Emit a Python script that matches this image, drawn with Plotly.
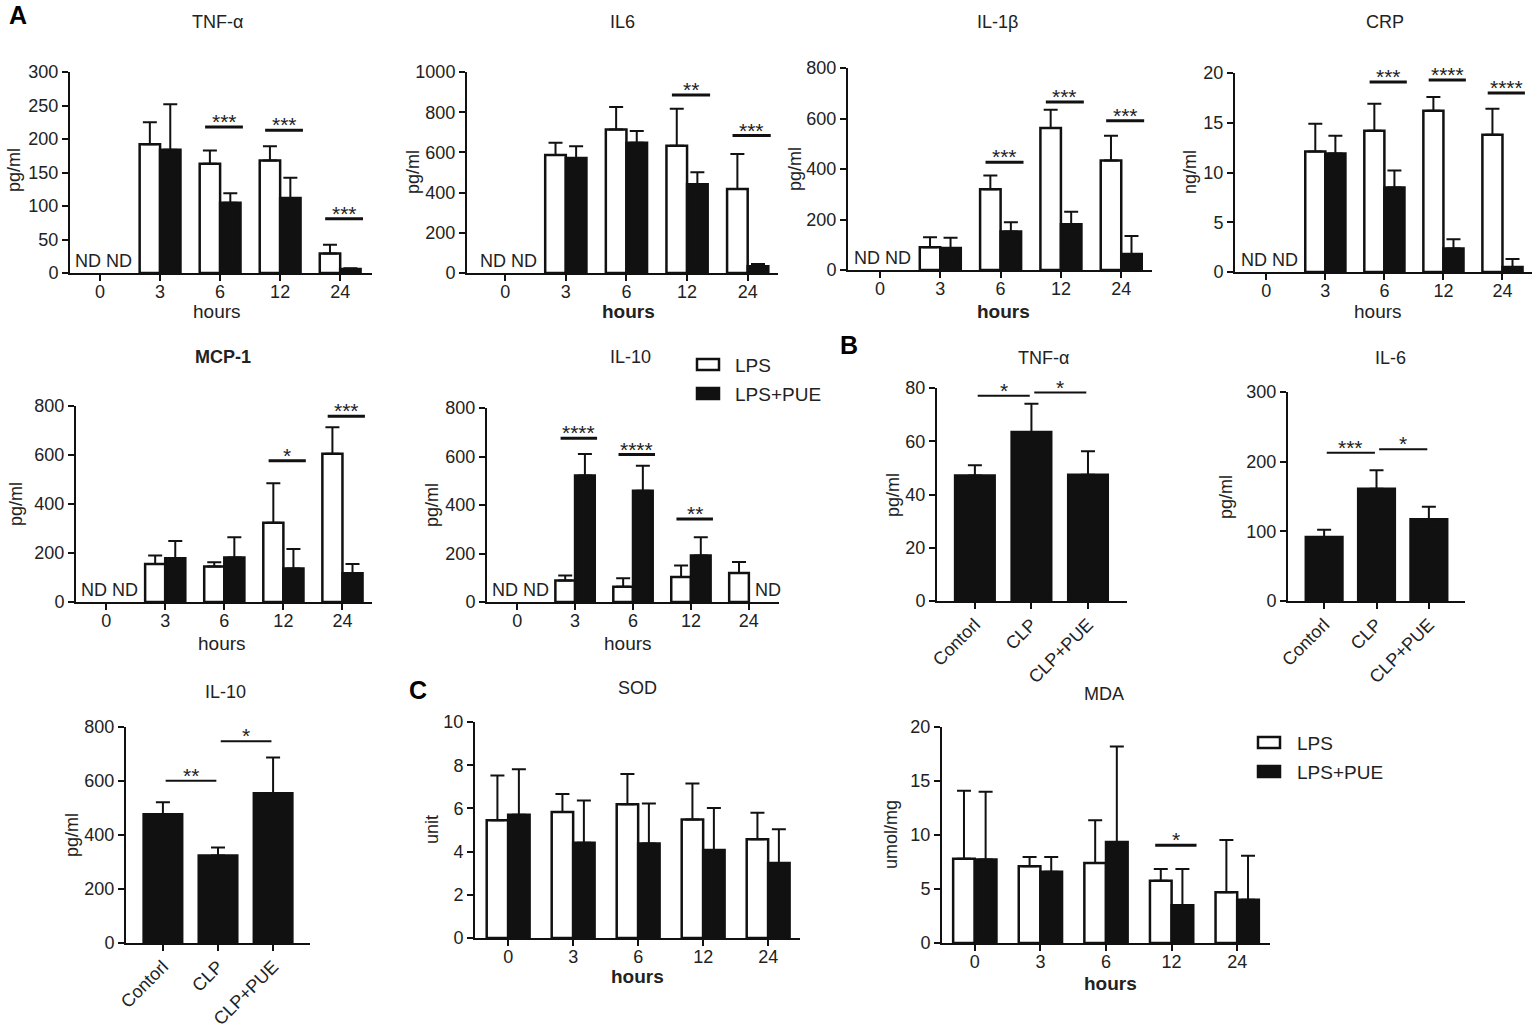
import plotly.graph_objects as go

W, H = 1535, 1030
FONT = 'Liberation Sans, Arial, sans-serif'
INK = '#111111'
TXT = '#222222'

hour_labels = ['0', '3', '6', '12', '24']
group_labels = ['Contorl', 'CLP', 'CLP+PUE']

# A: serum levels after LPS, mean and SD (None = not detected)
tnf_lps = [None, 192, 163, 168, 29]
tnf_lps_sd = [None, 33, 20, 21, 13]
tnf_pue = [None, 184, 105, 112, 6]
tnf_pue_sd = [None, 68, 14, 30, 1]

il6_lps = [None, 587, 714, 633, 418]
il6_lps_sd = [None, 61, 112, 184, 174]
il6_pue = [None, 572, 648, 441, 33]
il6_pue_sd = [None, 59, 59, 60, 12]

il1b_lps = [None, 90, 320, 562, 434]
il1b_lps_sd = [None, 40, 54, 73, 98]
il1b_pue = [None, 87, 152, 181, 63]
il1b_pue_sd = [None, 41, 37, 50, 72]

crp_lps = [None, 12.1, 14.2, 16.2, 13.8]
crp_lps_sd = [None, 2.8, 2.7, 1.4, 2.6]
crp_pue = [None, 11.9, 8.5, 2.35, 0.5]
crp_pue_sd = [None, 1.8, 1.7, 0.95, 0.8]

mcp_lps = [None, 155, 145, 323, 605]
mcp_lps_sd = [None, 35, 17, 162, 108]
mcp_pue = [None, 179, 182, 137, 117]
mcp_pue_sd = [None, 70, 82, 79, 38]

il10_lps = [None, 89, 63, 103, 120]
il10_lps_sd = [None, 20, 35, 48, 45]
il10_pue = [None, 522, 459, 192, None]
il10_pue_sd = [None, 88, 103, 75, None]

# B: CLP model
b_tnf = [47.1, 63.5, 47.4]
b_tnf_sd = [3.9, 10.6, 8.8]
b_il6 = [91.9, 161.2, 117.2]
b_il6_sd = [10.5, 26.4, 18.2]
b_il10 = [477, 324, 555]
b_il10_sd = [44, 30, 132]

# C: oxidative stress
sod_lps = [5.45, 5.83, 6.19, 5.49, 4.57]
sod_lps_sd = [2.07, 0.84, 1.40, 1.66, 1.23]
sod_pue = [5.71, 4.41, 4.38, 4.07, 3.47]
sod_pue_sd = [2.10, 1.96, 1.85, 1.95, 1.56]

mda_lps = [7.81, 7.10, 7.41, 5.77, 4.69]
mda_lps_sd = [6.29, 0.86, 3.95, 1.08, 4.85]
mda_pue = [7.72, 6.60, 9.35, 3.49, 4.01]
mda_pue_sd = [6.28, 1.36, 8.85, 3.36, 4.08]

# significance: (hour index, bar height, stars) or (group i, group j, height, stars)
tnf_sig = [(2, 218, '***'), (3, 213, '***'), (4, 81, '***')]
il6_sig = [(3, 886, '**'), (4, 684, '***')]
il1b_sig = [(2, 427, '***'), (3, 665, '***'), (4, 591, '***')]
crp_sig = [(2, 19.1, '***'), (3, 19.3, '****'), (4, 18.0, '****')]
mcp_sig = [(3, 577, '*'), (4, 758, '***')]
il10_sig = [(1, 675, '****'), (2, 608, '****'), (3, 342, '**')]
mda_sig = [(3, 9.04, '*')]
b_tnf_sig = [(0, 1, 77.1, '*'), (1, 2, 78.3, '*')]
b_il6_sig = [(0, 1, 212.9, '***'), (1, 2, 217.7, '*')]
b_il10_sig = [(0, 1, 601, '**'), (1, 2, 747, '*')]

fig = go.Figure()
annotations = []
shapes = []


def text(x, y, s, size=18, bold=False, angle=0, xanchor='center', color=TXT):
    if bold:
        s = '<b>' + s + '</b>'
    annotations.append(dict(x=x / W, y=1 - y / H, xref='paper', yref='paper', text=s,
                            showarrow=False, textangle=angle, xanchor=xanchor,
                            yanchor='middle', font=dict(family=FONT, size=size, color=color)))


def axes(n, xpx, ypx, xrange, ymax, dtick, labels, angle=0, standoff=-5):
    k = '' if n == 1 else str(n)
    fig.layout['xaxis' + k] = dict(
        domain=[xpx[0] / W, xpx[1] / W], range=xrange, anchor='y' + k, automargin=False,
        tickvals=list(range(len(labels))), ticktext=labels, tickangle=angle,
        ticklabelstandoff=standoff,
        showline=True, linecolor=INK, linewidth=2, ticks='outside', ticklen=6,
        tickwidth=2, tickcolor=INK, showgrid=False, zeroline=False,
        tickfont=dict(family=FONT, size=18, color=TXT))
    fig.layout['yaxis' + k] = dict(
        domain=[1 - ypx[1] / H, 1 - ypx[0] / H], range=[0, ymax], dtick=dtick,
        anchor='x' + k, automargin=False, showline=True, linecolor=INK, linewidth=2,
        ticks='outside', ticklen=6, tickwidth=2, tickcolor=INK, showgrid=False,
        zeroline=False, tickfont=dict(family=FONT, size=18, color=TXT))
    return 'x' + k, 'y' + k


def bar(xa, ya, vals, sd, fill, width, offset):
    n = len(vals)
    fig.add_trace(go.Bar(
        x=list(range(n)), y=vals, xaxis=xa, yaxis=ya, width=width, offset=offset,
        marker=dict(color=fill, line=dict(color=INK, width=2.5)), showlegend=False,
        error_y=dict(type='data', symmetric=False, array=sd, arrayminus=[0] * n,
                     color=INK, thickness=2, width=7)))


def star(xa, ya, x0, x1, y, s, lw=3):
    shapes.append(dict(type='line', xref=xa, yref=ya, x0=x0, x1=x1, y0=y, y1=y,
                       line=dict(color=INK, width=lw)))
    annotations.append(dict(x=(x0 + x1) / 2, y=y, xref=xa, yref=ya, text=s,
                            showarrow=False, yanchor='bottom', yshift=-8,
                            font=dict(family=FONT, size=21, color=TXT)))


def time_panel(n, xpx, ypx, xrange, ymax, dtick, lps, lps_sd, pue, pue_sd, sig,
               nd=True, bw=0.34):
    xa, ya = axes(n, xpx, ypx, xrange, ymax, dtick, hour_labels)
    bar(xa, ya, lps, lps_sd, 'white', bw, -bw)
    bar(xa, ya, pue, pue_sd, INK, bw, 0)
    for i, y, s in sig:
        star(xa, ya, i - 0.25, i + 0.38, y, s)
    if nd:
        annotations.append(dict(x=0.05, y=0, xref=xa, yref=ya, text='ND ND', showarrow=False,
                                yanchor='bottom', yshift=0,
                                font=dict(family=FONT, size=18, color=TXT)))
    return xa, ya


def group_panel(n, xpx, ypx, xrange, ymax, dtick, vals, sd, sig):
    xa, ya = axes(n, xpx, ypx, xrange, ymax, dtick, group_labels, angle=-45, standoff=-2)
    bar(xa, ya, vals, sd, INK, 0.7, -0.35)
    for i, j, y, s in sig:
        star(xa, ya, i + 0.05, j - 0.03, y, s, lw=2)
    return xa, ya


# row 1
time_panel(1, (70, 372), (72, 273), [-0.5, 4.53], 300, 50,
           tnf_lps, tnf_lps_sd, tnf_pue, tnf_pue_sd, tnf_sig)
time_panel(2, (467, 778), (72, 273), [-0.63, 4.5], 1000, 200,
           il6_lps, il6_lps_sd, il6_pue, il6_pue_sd, il6_sig)
time_panel(3, (848, 1152), (68, 270), [-0.53, 4.51], 800, 200,
           il1b_lps, il1b_lps_sd, il1b_pue, il1b_pue_sd, il1b_sig)
time_panel(4, (1235, 1532), (73, 272), [-0.53, 4.5], 20, 5,
           crp_lps, crp_lps_sd, crp_pue, crp_pue_sd, crp_sig)
# row 2
time_panel(5, (76, 372), (406, 602), [-0.51, 4.5], 800, 200,
           mcp_lps, mcp_lps_sd, mcp_pue, mcp_pue_sd, mcp_sig)
xa6, ya6 = time_panel(6, (487, 779), (408, 602), [-0.52, 4.52], 800, 200,
                      il10_lps, il10_lps_sd, il10_pue, il10_pue_sd, il10_sig)
annotations.append(dict(x=4.33, y=0, xref=xa6, yref=ya6, text='ND', showarrow=False,
                        yanchor='bottom', yshift=0, font=dict(family=FONT, size=18, color=TXT)))
group_panel(7, (937, 1127), (388, 601), [-0.67, 2.69], 80, 20, b_tnf, b_tnf_sd, b_tnf_sig)
group_panel(8, (1288, 1465), (392, 601), [-0.69, 2.69], 300, 100, b_il6, b_il6_sd, b_il6_sig)
# row 3
group_panel(9, (126, 310), (727, 943), [-0.67, 2.67], 800, 200, b_il10, b_il10_sd, b_il10_sig)
time_panel(10, (475, 800), (722, 938), [-0.51, 4.49], 10, 2,
           sod_lps, sod_lps_sd, sod_pue, sod_pue_sd, [], nd=False, bw=0.33)
time_panel(11, (942, 1270), (727, 943), [-0.5, 4.5], 20, 5,
           mda_lps, mda_lps_sd, mda_pue, mda_pue_sd, mda_sig, nd=False, bw=0.33)

# titles
for x, y, s, b in [(217, 22, 'TNF-α', False), (622, 22, 'IL6', False), (997, 22, 'IL-1β', False),
                   (1385, 22, 'CRP', False), (223, 357, 'MCP-1', True), (630, 357, 'IL-10', False),
                   (1043, 358, 'TNF-α', False), (1390, 358, 'IL-6', False),
                   (225, 692, 'IL-10', False), (637, 688, 'SOD', False), (1104, 694, 'MDA', False)]:
    text(x, y, s, bold=b)

# y axis titles
for x, y, s in [(14, 170, 'pg/ml'), (413, 172, 'pg/ml'), (795, 169, 'pg/ml'), (1190, 172, 'ng/ml'),
                (16, 504, 'pg/ml'), (432, 505, 'pg/ml'), (893, 495, 'pg/ml'), (1226, 497, 'pg/ml'),
                (72, 835, 'pg/ml'), (432, 830, 'unit'), (891, 835, 'umol/mg')]:
    text(x, y, s, angle=-90)

# x axis titles
for x, y, b in [(217, 311, False), (628, 312, True), (1003, 312, True), (1378, 311, False),
                (222, 643, False), (628, 643, False), (637, 976, True), (1110, 983, True)]:
    text(x, y, 'hours', size=19, bold=b)

# panel letters
for x, y, s in [(18, 15, 'A'), (849, 345, 'B'), (418, 690, 'C')]:
    text(x, y, s, size=25, bold=True, color='#000000')

# legends
for bx, by, tx in [(697, 359, 733), (1258, 737, 1295)]:
    for k, (fill, label) in enumerate([('white', 'LPS'), (INK, 'LPS+PUE')]):
        y0 = by + k * 29
        shapes.append(dict(type='rect', xref='paper', yref='paper',
                           x0=bx / W, x1=(bx + 22) / W, y0=1 - y0 / H, y1=1 - (y0 + 11) / H,
                           fillcolor=fill, line=dict(color=INK, width=2.5)))
        text(tx, y0 + 6, label, size=19, xanchor='left')

fig.update_layout(width=W, height=H, margin=dict(l=0, r=0, t=0, b=0),
                  paper_bgcolor='white', plot_bgcolor='white', barmode='overlay',
                  annotations=annotations, shapes=shapes,
                  font=dict(family=FONT, color=TXT))

# the page's default body margin would shift the figure by 8 px
fig.write_html('out.html', config={'displayModeBar': False},
               post_script="document.body.style.margin='0px';")
